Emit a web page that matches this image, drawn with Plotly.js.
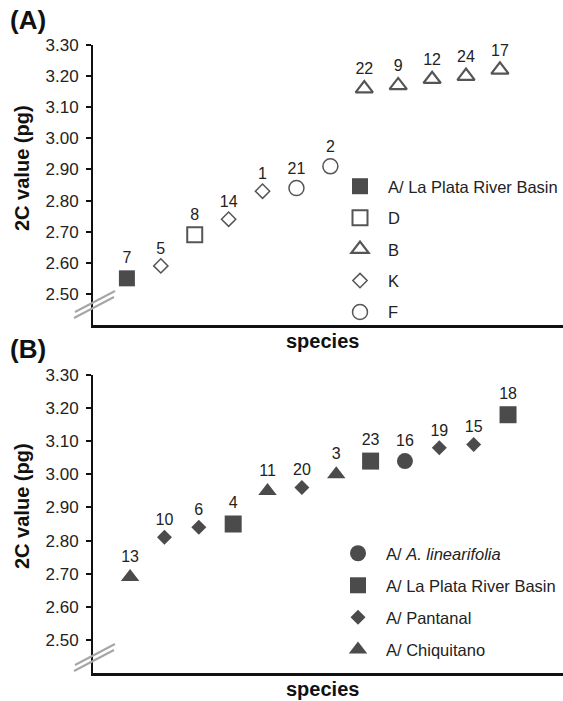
<!DOCTYPE html>
<html><head><meta charset="utf-8">
<script src="https://cdn.plot.ly/plotly-3.0.1.min.js"></script>
<style>html,body{margin:0;padding:0;background:#fff;overflow:hidden;width:563px;height:701px}#chart{display:block}</style>
</head><body><div id="chart" style="width:563px;height:701px"></div>
<script>
// ---- Panel A data ----
const labelsA = ['7','5','8','14','1','21','2','22','9','12','24','17'];
const valuesA = [2.55,2.59,2.69,2.74,2.83,2.84,2.91,3.16,3.17,3.19,3.20,3.22];
const groupsA = ['A/ La Plata River Basin','K','D','K','K','F','F','B','B','B','B','B'];
const legendOrderA = ['A/ La Plata River Basin','D','B','K','F'];

// ---- Panel B data ----
const labelsB = ['13','10','6','4','11','20','3','23','16','19','15','18'];
const valuesB = [2.69,2.81,2.84,2.85,2.95,2.96,3.00,3.04,3.04,3.08,3.09,3.18];
const groupsB = ['A/ Chiquitano','A/ Pantanal','A/ Pantanal','A/ La Plata River Basin','A/ Chiquitano','A/ Pantanal','A/ Chiquitano','A/ La Plata River Basin','A/ A. linearifolia','A/ Pantanal','A/ Pantanal','A/ La Plata River Basin'];
const legendOrderB = ['A/ A. linearifolia','A/ La Plata River Basin','A/ Pantanal','A/ Chiquitano'];

const yTickVals = [2.50,2.60,2.70,2.80,2.90,3.00,3.10,3.20,3.30];

// ---- styles ----
const DARK = '#4b4b4b', OPEN = '#555555';
const styleA = {
  'A/ La Plata River Basin': {symbol:'square', size:16, color:DARK, lw:0},
  'D': {symbol:'square-open', size:15, color:OPEN, lw:2},
  'B': {symbol:'triangle-up-open', size:15, color:OPEN, lw:2.2},
  'K': {symbol:'diamond-open', size:11, color:OPEN, lw:1.5},
  'F': {symbol:'circle-open', size:15, color:OPEN, lw:1.5}
};
const styleB = {
  'A/ A. linearifolia': {symbol:'circle', size:16, color:DARK, lw:0, name:'A/ <i>A. linearifolia</i>'},
  'A/ La Plata River Basin': {symbol:'square', size:17, color:DARK, lw:0},
  'A/ Pantanal': {symbol:'diamond', size:11.5, color:DARK, lw:0},
  'A/ Chiquitano': {symbol:'triangle-up', size:16, color:DARK, lw:0}
};
const FONT = 'Liberation Sans, Arial, Helvetica, sans-serif';

function makeTraces(labels, values, groups, order, styles, xa, ya, legendId, prefix){
  const xs = labels.map((_, i) => i + 1);
  return order.map(g => {
    const idx = groups.map((gg, i) => gg === g ? i : -1).filter(i => i >= 0);
    const st = styles[g];
    return {
      type:'scatter', mode:'markers+text',
      x: idx.map(i => xs[i]), y: idx.map(i => values[i]),
      text: idx.map(i => labels[i]),
      textposition:'top center',
      textfont:{family:FONT, size:16, color:'#222'},
      marker:{symbol:st.symbol, size:st.size, color:st.color, line:{color:st.color, width:st.lw}},
      name: st.name || g, legendgroup: prefix + g, legend: legendId,
      xaxis: xa, yaxis: ya, cliponaxis:false, hoverinfo:'skip'
    };
  });
}

const traces = [].concat(
  makeTraces(labelsA, valuesA, groupsA, legendOrderA, styleA, 'x', 'y', 'legend', 'a'),
  makeTraces(labelsB, valuesB, groupsB, legendOrderB, styleB, 'x2', 'y2', 'legend2', 'b')
);

// pixel -> paper helpers (plot area: l=93, r=563, t=45, b=673)
const PX = v => (v - 93) / 470;
const PY = v => (673 - v) / 628;

function breakLines(yA){
  const mk = (x0,y0,x1,y1) => ({type:'line', xref:'paper', yref:'paper', x0:PX(x0), y0:PY(y0), x1:PX(x1), y1:PY(y1), line:{color:'#a6a6a6', width:2}});
  return [mk(75,yA+21,115,yA), mk(74,yA+27,114,yA+6)];
}

const yax = {
  range:[2.40,3.30], tickvals:yTickVals, tickformat:'.2f', ticks:'outside', ticklen:5, tickwidth:2,
  tickcolor:'#111', showline:true, linewidth:2, linecolor:'#111', showgrid:false, zeroline:false,
  tickfont:{family:FONT, size:17, color:'#222'}, ticklabelstandoff:4, fixedrange:true
};
const xax = {
  showline:true, linewidth:2.5, linecolor:'#111', showticklabels:false, ticks:'', showgrid:false, zeroline:false, fixedrange:true
};

const legendBase = {
  xanchor:'left', yanchor:'top', font:{family:FONT, size:16.5, color:'#222'}, itemwidth:46,
  bgcolor:'rgba(0,0,0,0)', traceorder:'grouped', borderwidth:0
};

const ann = (text, x, y, size, angle) => ({text:text, xref:'paper', yref:'paper', x:PX(x), y:PY(y), xanchor:'center', yanchor:'middle', showarrow:false, textangle:angle||0, font:{family:FONT, size:size, color:'#111'}});

const layout = {
  width:563, height:701, margin:{l:93, r:0, t:45, b:28, autoexpand:false}, paper_bgcolor:'#fff', plot_bgcolor:'#fff',
  showlegend:true,
  xaxis:Object.assign({}, xax, {domain:[0,1], anchor:'y', range:[0,13.86]}),
  yaxis:Object.assign({}, yax, {domain:[PY(325),1], anchor:'x'}),
  xaxis2:Object.assign({}, xax, {domain:[0,1], anchor:'y2', range:[-0.08,13.6]}),
  yaxis2:Object.assign({}, yax, {domain:[0,PY(375)], anchor:'x2'}),
  legend:Object.assign({}, legendBase, {x:PX(332), y:PY(169), tracegroupgap:7}),
  legend2:Object.assign({}, legendBase, {x:PX(330), y:PY(536), tracegroupgap:7.6}),
  shapes: breakLines(291).concat(breakLines(644)),
  annotations:[
    ann('<b>(A)</b>', 28, 20, 26),
    ann('<b>(B)</b>', 28, 349, 26),
    ann('<b>2C value (pg)</b>', 22, 168, 20, -90),
    ann('<b>2C value (pg)</b>', 22, 506, 20, -90),
    ann('<b>species</b>', 322, 341, 20),
    ann('<b>species</b>', 322, 689, 20)
  ]
};

Plotly.newPlot('chart', traces, layout, {staticPlot:true, displayModeBar:false});
</script>
</body></html>
